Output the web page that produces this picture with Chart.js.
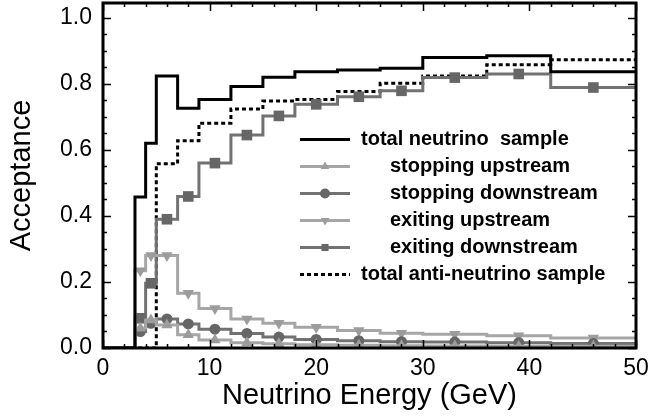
<!DOCTYPE html>
<html>
<head>
<meta charset="utf-8">
<script src="https://cdn.jsdelivr.net/npm/chart.js@4/dist/chart.umd.min.js"></script>
<style>
  html, body { margin: 0; padding: 0; background: #fff; }
  canvas { display: block; }
</style>
</head>
<body>
<canvas id="acceptanceChart" width="649" height="417"></canvas>
<script>
// bin edges in GeV (14 bins)
const binEdges = [0, 3, 4, 5, 7, 9, 12, 15, 18, 22, 26, 30, 36, 42, 50];

// acceptance per bin
const totalNeutrino  = [0, 0.457, 0.620, 0.824, 0.726, 0.753, 0.792, 0.820, 0.837, 0.842, 0.847, 0.880, 0.885, 0.837];
const stoppingUp     = [0, 0.060, 0.085, 0.070, 0.040, 0.024, 0.016, 0.013, 0.010, 0.008, 0.007, 0.006, 0.005, 0.005];
const stoppingDown   = [0, 0.050, 0.075, 0.088, 0.073, 0.057, 0.044, 0.033, 0.026, 0.022, 0.019, 0.018, 0.016, 0.014];
const exitingUp      = [0, 0.234, 0.280, 0.280, 0.166, 0.120, 0.088, 0.075, 0.063, 0.053, 0.045, 0.042, 0.037, 0.030];
const exitingDown    = [0, 0.090, 0.196, 0.390, 0.459, 0.560, 0.645, 0.703, 0.738, 0.761, 0.779, 0.819, 0.830, 0.789];
const totalAntiNu    = [0, 0, 0, 0.558, 0.628, 0.681, 0.724, 0.748, 0.753, 0.777, 0.802, 0.824, 0.858, 0.873];

const xTicks = [0, 10, 20, 30, 40, 50];
const yTicks = [0, 0.2, 0.4, 0.6, 0.8, 1.0];

const LIGHT = '#a6a6a6', LIGHT_PT = '#9c9c9c';
const DARK = '#727272', DARK_PT = '#666666';
const FONT = "'Liberation Sans', Arial, Helvetica, sans-serif";

// histogram outline: a point at each left edge (+ one marker point at bin centre)
function stepPoints(values, marked) {
  const pts = [];
  values.forEach((v, i) => {
    const lo = binEdges[i], hi = binEdges[i + 1];
    pts.push({ x: lo, y: v });
    if (marked && v > 0) pts.push({ x: (lo + hi) / 2, y: v, m: true });
  });
  pts.push({ x: binEdges[binEdges.length - 1], y: values[values.length - 1] });
  return pts;
}

function series(label, values, color, ptColor, style, size, extra) {
  return Object.assign({
    label,
    data: stepPoints(values, !!style),
    borderColor: color,
    backgroundColor: ptColor || color,
    borderWidth: 3,
    stepped: 'before',
    fill: false,
    borderJoinStyle: 'miter',
    borderCapStyle: 'butt',
    pointStyle: style || 'circle',
    pointBorderWidth: 0,
    pointRadius: c => (c.raw && c.raw.m ? size : 0),
    pointHoverRadius: 0,
    indent: 390
  }, extra || {});
}

const datasets = [
  series('total neutrino  sample', totalNeutrino, '#000', '#000', null, 0, { indent: 361 }),
  series('stopping upstream', stoppingUp, LIGHT, LIGHT_PT, 'triangle', 6.5),
  series('stopping downstream', stoppingDown, DARK, DARK_PT, 'circle', 5.5),
  series('exiting upstream', exitingUp, LIGHT, LIGHT_PT, 'triangle', 6.5, { pointRotation: 180 }),
  series('exiting downstream', exitingDown, DARK, DARK_PT, 'rect', 7.5),
  series('total anti-neutrino sample', totalAntiNu, '#000', '#000', null, 0, { borderDash: [4, 3], indent: 361 })
];

// frame with inward ticks on all four sides
const framePlugin = {
  id: 'frame',
  afterDatasetsDraw(chart) {
    const { ctx, chartArea: a, scales: { x, y } } = chart;
    ctx.save();
    ctx.strokeStyle = '#000';
    ctx.lineWidth = 1.5;
    ctx.beginPath();
    for (let v = 0; v <= 50; v += 2) {
      const px = Math.round(x.getPixelForValue(v)) + 0.5;
      const len = v % 10 === 0 ? 8 : 4;
      ctx.moveTo(px, a.bottom); ctx.lineTo(px, a.bottom - len);
      ctx.moveTo(px, a.top); ctx.lineTo(px, a.top + len);
    }
    for (let k = 0; k <= 20; k++) {
      const py = Math.round(y.getPixelForValue(k * 0.05)) + 0.5;
      const len = k % 4 === 0 ? 8 : 4;
      ctx.moveTo(a.left, py); ctx.lineTo(a.left + len, py);
      ctx.moveTo(a.right, py); ctx.lineTo(a.right - len, py);
    }
    ctx.stroke();
    ctx.lineWidth = 3;
    ctx.strokeRect(a.left, a.top, a.right - a.left, a.bottom - a.top);
    ctx.restore();
  }
};

function drawMarker(ctx, style, rot, r, cx, cy) {
  ctx.beginPath();
  if (style === 'circle') {
    ctx.arc(cx, cy, r, 0, Math.PI * 2);
  } else if (style === 'rect') {
    const h = r * Math.SQRT1_2;
    ctx.rect(cx - h, cy - h, 2 * h, 2 * h);
  } else if (style === 'triangle') {
    const s = rot ? -1 : 1;
    ctx.moveTo(cx, cy - s * r);
    ctx.lineTo(cx + r * 0.866, cy + s * r * 0.5);
    ctx.lineTo(cx - r * 0.866, cy + s * r * 0.5);
    ctx.closePath();
  }
  ctx.fill();
}

const legendPlugin = {
  id: 'boxLegend',
  afterDraw(chart) {
    const ctx = chart.ctx;
    const top = 138.5, step = 27.1, x0 = 300, x1 = 350;
    ctx.save();
    chart.data.datasets.forEach((ds, i) => {
      const yy = Math.round(top + i * step) + 0.5;
      ctx.strokeStyle = ds.borderColor;
      ctx.lineWidth = 3;
      ctx.setLineDash(ds.borderDash || []);
      ctx.beginPath();
      ctx.moveTo(x0, yy); ctx.lineTo(x1, yy);
      ctx.stroke();
      ctx.setLineDash([]);
      if (ds.pointStyle && ds.label.indexOf('total') !== 0) {
        ctx.fillStyle = ds.backgroundColor;
        drawMarker(ctx, ds.pointStyle, ds.pointRotation, 5, (x0 + x1) / 2, yy);
      }
      ctx.fillStyle = '#000';
      ctx.font = 'bold 20px ' + FONT;
      ctx.textBaseline = 'middle';
      ctx.textAlign = 'left';
      ctx.fillText(ds.label, ds.indent, yy);
    });
    ctx.restore();
  }
};

new Chart(document.getElementById('acceptanceChart').getContext('2d'), {
  type: 'line',
  data: { datasets },
  plugins: [framePlugin, legendPlugin],
  options: {
    responsive: false,
    animation: false,
    devicePixelRatio: 1,
    layout: { padding: { top: 3, right: 13, left: 0, bottom: 0 } },
    plugins: { legend: { display: false }, tooltip: { enabled: false } },
    scales: {
      x: {
        type: 'linear',
        min: 0,
        max: 50,
        afterBuildTicks: s => { s.ticks = xTicks.map(v => ({ value: v })); },
        afterFit: s => { s.height = 69; s.paddingLeft = 0; s.paddingRight = 0; },
        ticks: { font: { size: 23, family: FONT }, color: '#000', padding: 7, maxRotation: 0, autoSkip: false },
        grid: { display: false, drawTicks: false },
        border: { display: false },
        title: {
          display: true,
          text: 'Neutrino Energy (GeV)',
          color: '#000',
          font: { size: 29, family: FONT },
          padding: { top: 0, bottom: 4 }
        }
      },
      y: {
        min: 0,
        max: 1.045,
        afterBuildTicks: s => { s.ticks = yTicks.map(v => ({ value: v })); },
        afterFit: s => { s.width = 103; s.paddingTop = 0; s.paddingBottom = 0; },
        ticks: {
          font: { size: 23, family: FONT },
          color: '#000',
          padding: 11,
          callback: v => v.toFixed(1)
        },
        grid: { display: false, drawTicks: false },
        border: { display: false },
        title: {
          display: true,
          text: 'Acceptance',
          color: '#000',
          font: { size: 29, family: FONT },
          padding: { top: 5, bottom: 0 }
        }
      }
    }
  }
});
</script>
</body>
</html>
